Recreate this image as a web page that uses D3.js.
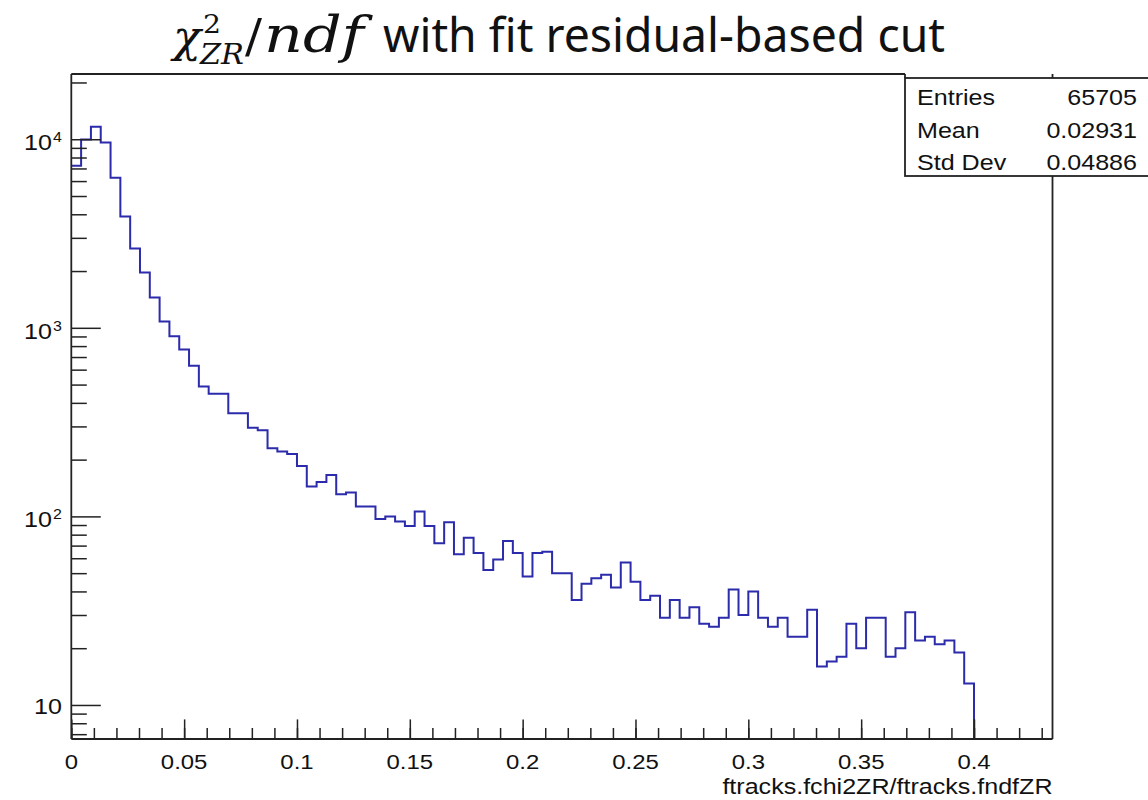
<!DOCTYPE html>
<html>
<head>
<meta charset="utf-8">
<script src="https://cdn.jsdelivr.net/npm/d3@7"></script>
<style>
  body { margin: 0; background: #fff; }
  svg { display: block; }
</style>
</head>
<body>
<svg id="chart" width="1148" height="800"></svg>
<script>
// histogram: 100 bins, the first 92 span [0, 0.4], the rest are empty
const binLow = 0, binHigh = 0.4, nFilled = 92, nBins = 100;
const counts = [
  7230, 9970, 11640, 9610, 6240, 3890, 2630, 1963, 1450, 1081,
  903, 768, 629, 488, 447, 447, 352, 352, 295, 286,
  230, 221, 214, 185, 144, 152, 166, 131, 134, 113,
  113, 97, 100, 94, 89, 106, 89, 72, 93, 63,
  77, 64, 52, 59, 74, 64, 48, 64, 65, 50,
  50, 36, 44, 47, 49, 42, 57, 45, 36, 38,
  29, 36, 29, 33, 27, 26, 29, 41, 30, 40,
  29, 26, 29, 23, 23, 32, 16, 17, 18, 27,
  20, 29, 29, 18, 20, 31, 22, 23, 21, 22,
  19, 13
];
const xTickValues = [0, 0.05, 0.1, 0.15, 0.2, 0.25, 0.3, 0.35, 0.4];
const xTickLabels = ["0", "0.05", "0.1", "0.15", "0.2", "0.25", "0.3", "0.35", "0.4"];
const yTickValues = [10, 100, 1000, 10000];
const yTickExps = ["", "2", "3", "4"];
const yMin = 6.6, yMax = 22180;
const statNames = ["Entries", "Mean", "Std Dev"];
const statValues = ["65705", "0.02931", "0.04886"];
const xTitle = "ftracks.fchi2ZR/ftracks.fndfZR";

const frame = { left: 71.3, right: 1052.5, top: 74, bottom: 739 };
const binW = (binHigh - binLow) / nFilled;
const xMaxRange = binLow + binW * nBins;

const svg = d3.select("#chart");

const x = d3.scaleLinear().domain([binLow, xMaxRange]).range([frame.left, frame.right]);
const y = d3.scaleLog().domain([yMin, yMax]).range([frame.bottom, frame.top]);

const axisColor = "#222";
const sx = 1.14; // text is drawn a bit wide

function label(px, py, str, size, anchor, family) {
  return svg.append("text")
    .attr("transform", `translate(${px},${py}) scale(${sx},1)`)
    .attr("text-anchor", anchor || "start")
    .style("font-family", family || "'Liberation Sans', Arial, sans-serif")
    .style("font-size", size + "px")
    .attr("fill", "#111")
    .text(str);
}

// ---- histogram ----
const steps = [];
counts.forEach((c, i) => steps.push({ x: binLow + i * binW, c: c }));
steps.push({ x: binLow + counts.length * binW, c: counts[counts.length - 1] });
steps.push({ x: binLow + counts.length * binW, c: yMin });

const histLine = d3.line()
  .x(d => x(d.x))
  .y(d => y(Math.max(d.c, yMin)))
  .curve(d3.curveStepAfter);

svg.append("path")
  .datum(steps)
  .attr("d", histLine)
  .attr("fill", "none")
  .attr("stroke", "#2b2bab")
  .attr("stroke-width", 2);

// ---- x axis ----
const xMinor = d3.range(0, 44).map(i => i * 0.01).filter(v => v <= xMaxRange);
svg.append("g")
  .attr("transform", `translate(0,${frame.bottom})`)
  .call(d3.axisBottom(x).tickValues(xMinor).tickSize(-11).tickFormat(""))
  .call(g => g.select(".domain").remove())
  .selectAll("line").attr("stroke", axisColor).attr("stroke-width", 1.5);
svg.append("g")
  .attr("transform", `translate(0,${frame.bottom})`)
  .call(d3.axisBottom(x).tickValues(xTickValues).tickSize(-19.6).tickFormat(""))
  .call(g => g.select(".domain").remove())
  .selectAll("line").attr("stroke", axisColor).attr("stroke-width", 1.5);

xTickValues.forEach((v, i) => {
  label(x(v), 769, xTickLabels[i], 21, "middle");
});
label(frame.right, 794, xTitle, 22, "end");

// ---- y axis ----
const yMinor = [];
[1, 10, 100, 1000, 10000].forEach(d => {
  for (let m = 2; m <= 9; m++) {
    const v = d * m;
    if (v >= yMin && v <= yMax) yMinor.push(v);
  }
});
svg.append("g")
  .attr("transform", `translate(${frame.left},0)`)
  .call(d3.axisLeft(y).tickValues(yMinor).tickSize(-15.5).tickFormat(""))
  .call(g => g.select(".domain").remove())
  .selectAll("line").attr("stroke", axisColor).attr("stroke-width", 1.5);
svg.append("g")
  .attr("transform", `translate(${frame.left},0)`)
  .call(d3.axisLeft(y).tickValues(yTickValues).tickSize(-29.5).tickFormat(""))
  .call(g => g.select(".domain").remove())
  .selectAll("line").attr("stroke", axisColor).attr("stroke-width", 1.5);

yTickValues.forEach((v, i) => {
  const ty = y(v);
  if (yTickExps[i] === "") {
    label(62, ty + 9, "10", 22, "end");
  } else {
    label(52, ty + 11, "10", 22, "end");
    label(53, ty + 3, yTickExps[i], 14, "start");
  }
});

// ---- frame ----
const statsLeft = 905, statsTop = 78, statsBottom = 176;
const frameLines = [
  [frame.left, frame.top, frame.left, frame.bottom],
  [frame.left, frame.bottom, frame.right, frame.bottom],
  [frame.right, frame.top, frame.right, frame.bottom],
  [frame.left, frame.top, statsLeft, frame.top]
];
svg.selectAll("line.frame").data(frameLines).enter().append("line")
  .attr("class", "frame")
  .attr("x1", d => d[0]).attr("y1", d => d[1])
  .attr("x2", d => d[2]).attr("y2", d => d[3])
  .attr("stroke", axisColor).attr("stroke-width", 1.8);

// ---- stats box ----
svg.append("rect")
  .attr("x", statsLeft).attr("y", statsTop)
  .attr("width", 1148 - statsLeft + 5).attr("height", statsBottom - statsTop)
  .attr("fill", "#fff").attr("stroke", axisColor).attr("stroke-width", 1.8);
svg.append("line").attr("x1", statsLeft).attr("x2", statsLeft)
  .attr("y1", frame.top).attr("y2", statsTop)
  .attr("stroke", axisColor).attr("stroke-width", 1.8);
statNames.forEach((n, i) => {
  const by = 105 + i * 32.5;
  label(917, by, n, 22, "start");
  label(1137, by, statValues[i], 22, "end");
});

// ---- title ----
const math = "'DejaVu Serif', 'Liberation Serif', serif";
const title = svg.append("g").attr("class", "title").attr("fill", "#111");
title.append("text").attr("x", 173).attr("y", 52)
  .style("font-family", math).style("font-style", "italic").style("font-size", "44px")
  .attr("textLength", 28).attr("lengthAdjust", "spacingAndGlyphs")
  .text("χ");
title.append("text").attr("x", 203).attr("y", 33)
  .style("font-family", math).style("font-size", "26px")
  .attr("textLength", 18).attr("lengthAdjust", "spacingAndGlyphs")
  .text("2");
title.append("text").attr("x", 200).attr("y", 64)
  .style("font-family", math).style("font-style", "italic").style("font-size", "28px")
  .attr("textLength", 44).attr("lengthAdjust", "spacingAndGlyphs")
  .text("ZR");
title.append("text").attr("x", 245).attr("y", 52)
  .style("font-family", math).style("font-size", "46px")
  .attr("textLength", 17).attr("lengthAdjust", "spacingAndGlyphs")
  .text("/");
title.append("text").attr("x", 264).attr("y", 52)
  .style("font-family", math).style("font-style", "italic").style("font-size", "50px")
  .attr("textLength", 100).attr("lengthAdjust", "spacingAndGlyphs")
  .text("ndf");
title.append("text").attr("x", 383).attr("y", 52)
  .style("font-family", "'Noto Sans', sans-serif").style("font-size", "47px")
  .attr("textLength", 562).attr("lengthAdjust", "spacingAndGlyphs")
  .text("with fit residual-based cut");
</script>
</body>
</html>
